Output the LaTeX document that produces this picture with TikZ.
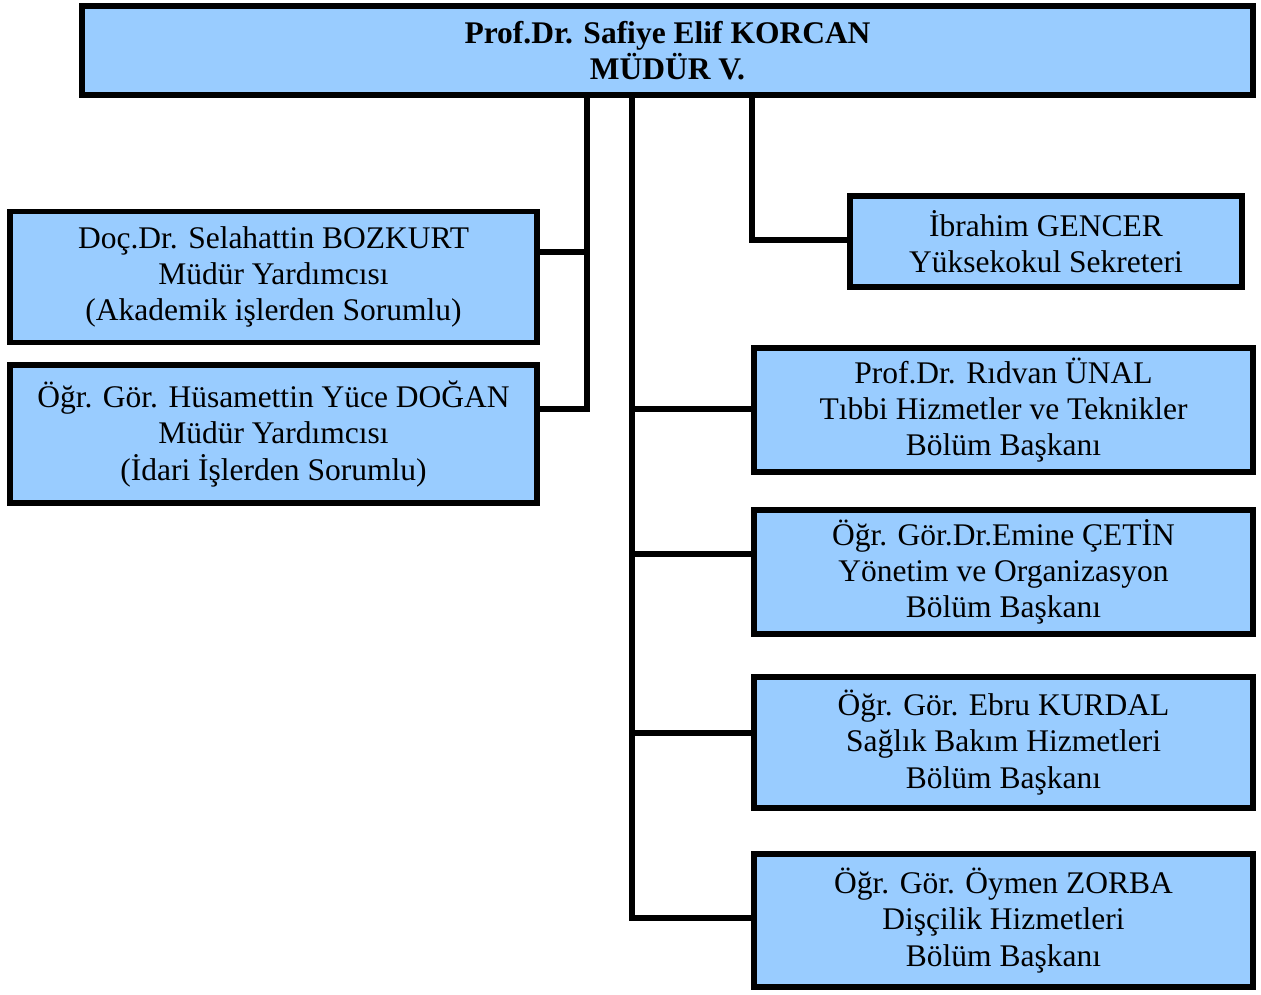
\documentclass[tikz,border=0pt]{standalone}
\usepackage{fontspec}
\setmainfont{Liberation Serif}
\usepackage{tikz}
\definecolor{boxblue}{HTML}{99CCFF}

\begin{document}
\begin{tikzpicture}[x=1pt,y=-1pt,
	box/.style={draw=black,fill=boxblue,line width=5.7pt,rectangle,inner sep=0pt,align=center,
		font=\fontsize{31.5}{36.2}\selectfont},
	link/.style={line width=5.7pt,line join=miter}]

	% ---- parameters

	\def\leftw{527}
	\def\rightw{499}

	\useasboundingbox (0,0) rectangle (1261,994);

	% ---- boxes

	\node[box,minimum width=1171,minimum height=89,font=\fontsize{31.5}{36.2}\selectfont\bfseries]
		(top) at (667.5,50.5) {Prof.Dr. Safiye Elif KORCAN\\MÜDÜR V.};

	\node[box,minimum width=\leftw,minimum height=131] (l1) at (273.5,277)
		{Doç.Dr. Selahattin BOZKURT\\Müdür Yardımcısı\\(Akademik işlerden Sorumlu)};
	\node[box,minimum width=\leftw,minimum height=138] (l2) at (273.5,434)
		{Öğr. Gör. Hüsamettin Yüce DOĞAN\\Müdür Yardımcısı\\(İdari İşlerden Sorumlu)};

	\node[box,minimum width=392,minimum height=91] (r0) at (1046,241.5)
		{İbrahim GENCER\\Yüksekokul Sekreteri};
	\node[box,minimum width=\rightw,minimum height=124] (r1) at (1003.5,410)
		{Prof.Dr. Rıdvan ÜNAL\\Tıbbi Hizmetler ve Teknikler\\Bölüm Başkanı};
	\node[box,minimum width=\rightw,minimum height=124] (r2) at (1003.5,572)
		{Öğr. Gör.Dr.Emine ÇETİN\\Yönetim ve Organizasyon\\Bölüm Başkanı};
	\node[box,minimum width=\rightw,minimum height=131] (r3) at (1003.5,742.5)
		{Öğr. Gör. Ebru KURDAL\\Sağlık Bakım Hizmetleri\\Bölüm Başkanı};
	\node[box,minimum width=\rightw,minimum height=133] (r4) at (1003.5,920.5)
		{Öğr. Gör. Öymen ZORBA\\Dişçilik Hizmetleri\\Bölüm Başkanı};

	% ---- branch points

	\coordinate (a1) at (587,252);
	\coordinate (a2) at (587,409);

	\coordinate (b1) at (632,409);
	\coordinate (b2) at (632,554);
	\coordinate (b3) at (632,733);
	\coordinate (b4) at (632,918);

	\coordinate (c1) at (752,240);

	% ---- lines

	\draw[link] (top.south -| a1) -- (a2) -- (a2 -| l2.east);
	\draw[link] (a1) -- (a1 -| l1.east);

	\draw[link] (top.south -| b1) -- (b4) -- (b4 -| r4.west);
	\foreach \i in {1,2,3} { \draw[link] (b\i) -- (b\i -| r\i.west); }

	\draw[link] (top.south -| c1) -- (c1) -- (c1 -| r0.west);

\end{tikzpicture}
\end{document}
